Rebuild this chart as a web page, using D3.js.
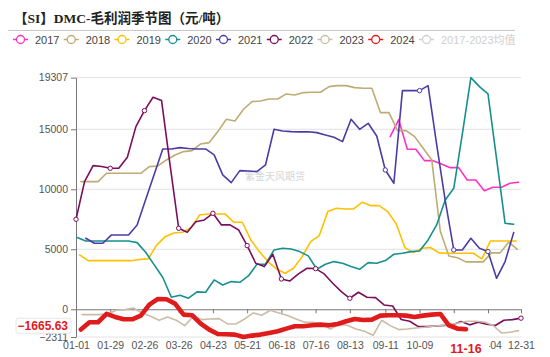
<!DOCTYPE html>
<html><head><meta charset="utf-8">
<script src="https://cdn.jsdelivr.net/npm/d3@7"></script>
<style>body{margin:0;background:#fff}svg{display:block}</style>
</head><body><svg id="c" width="550" height="357"></svg>
<script>
// ---------- DATA ----------
const years = ["2017","2018","2019","2020","2021","2022","2023","2024"];
const legendLabels = ["2017","2018","2019","2020","2021","2022","2023","2024","2017-2023均值"];
// first weekly date of each series (MM-DD); following points are one week apart
const seriesStart = ["09-15","01-05","01-04","01-02","01-09","01-01","01-06","01-05"];
const v2017 = [14387,15800,13331,13331,12387,12387,12109,11803,11803,10776,10776,9887,10165,10165,10498,10582];
const v2018 = [10640,10640,10640,11334,11334,11334,11334,11334,11890,11945,
               12445,12862,13140,13223,13778,13890,14806,15834,15695,16668,
               17307,17362,17529,17529,17946,17862,18057,18084,18084,18557,
               18640,18640,18473,18418,18418,16390,16390,14890,14890,14390,
               13418,12445,6500,4440,4300,3950,3950,3950,4700,4700,
               5600,5000];
const v2019 = [4528,4050,4050,4050,4050,4050,4050,4150,4200,5350,
               6050,6350,6420,6800,7850,7945,7945,7945,7250,7250,
               5778,4806,3973,3361,3000,3417,4389,5640,6140,8140,
               8417,8362,8362,8918,8640,8640,8140,7112,5140,4723,
               5084,5150,4700,4667,4667,4667,4667,4200,5695,5695,
               5695,5695];
const v2020 = [5972,5695,5695,5695,5695,5695,5695,5556,4750,3700,
               2650,1000,1167,920,1450,1417,2445,2028,2306,2250,
               2778,3750,3750,4945,5084,5028,4806,4450,3334,3750,
               3973,3834,3556,3334,3889,3834,4056,4584,4667,4806,
               4850,5778,7028,9112,10084,14600,19307,18557,17946,12556,
               7167,7084];
const v2021 = [5917,5500,5500,6195,6195,6195,7028,9140,11250,13362,
               13362,13473,13400,13362,13362,12862,11195,10556,11556,11528,
               11473,12028,15000,14862,14806,14780,14800,14720,14530,14330,
               13970,15832,14998,15498,14443,11609,10498,18221,18221,18221,
               18638,13750,9070,4945,4945,5917,5084,4806,2584,3973,
               6389];
const v2022 = [7500,10640,11973,11900,11750,11750,12668,15223,16557,17668,
               17390,12000,6751,6417,7300,7445,8000,7030,7030,6610,
               5306,3834,3556,4584,2528,2361,2945,3417,3390,2945,
               2167,1472,917,1417,1000,972,360,270,-850,-1000,
               -1450,-1450,-1400,-1350,-1300,-1020,-1300,-1080,-1250,-1350,
               -920,-860,-740];
const v2023 = [-444,-444,-444,-389,-83,-28,111,-306,-583,-917,
               -639,-917,-1361,-583,-861,-806,-778,-1222,-1222,-806,
               -306,-500,-83,-306,-528,-806,-1083,-1083,-1222,-1639,
               -1278,-1333,-1639,-1833,-2167,-917,-1361,-1694,-1639,-1556,
               -1500,-1417,-1333,-1278,-1139,-1000,-1000,-1056,-1333,-1972,
               -1917,-1778];
const v2024 = [-1694,-1083,-1083,-389,-639,-833,-833,-528,389,861,
               833,472,-444,-500,-1194,-1694,-2056,-2083,-2111,-2311,
               -2194,-2111,-1972,-1833,-1611,-1417,-1417,-1333,-1278,-1333,
               -1222,-1000,-806,-889,-861,-528,-500,-500,-528,-639,
               -528,-444,-389,-1333,-1611,-1665.63];
const seriesValues = [v2017,v2018,v2019,v2020,v2021,v2022,v2023,v2024];
// tick positions (MM-DD); the label of the 11-06 tick is hidden behind the pointer label in the reference
const xTickLabels = ["01-01","01-29","02-26","03-26","04-23","05-21","06-18","07-16","08-13","09-11","10-09","11-06","12-04","12-31"];
const xHiddenLabels = ["11-06"];
const yTickValues = [-2311,0,5000,10000,15000,19307];

// ---------- STYLE ----------
const colors = ["#ff30c4","#bdac74","#ffc000","#16908f","#4c3ca6","#7a0f5e","#cbbca8","#e01b1b","#d0d0d0"];
const widths = [1.6,1.6,1.6,1.6,1.6,1.6,1.6,4.6];
const fontSans = "'Liberation Sans','Noto Sans CJK SC',sans-serif";

const base = new Date(2023,0,1);
const dayOf = s => { const [m,d]=s.split("-").map(Number); return d3.timeDay.count(base,new Date(2023,m-1,d)); };
const fmtMD = d3.timeFormat("%m-%d");

const svg = d3.select("#c");
const x = d3.scaleLinear().domain([0,364]).range([76,521]);
const y = d3.scaleLinear().domain([-2311,19307]).range([337,77.6]);

// Title
svg.append("text").attr("x",14).attr("y",23)
  .attr("font-family","'Liberation Serif','Noto Sans CJK SC',serif")
  .attr("font-weight","bold").attr("font-size",13.5).attr("fill","#222")
  .text("【SI】DMC-毛利润季节图（元/吨）");
svg.append("line").attr("x1",8).attr("x2",515).attr("y1",30.5).attr("y2",30.5)
  .attr("stroke","#c8c8c8").attr("stroke-width",1);

// Legend
const leg = svg.append("g");
legendLabels.forEach((lab,i)=>{
  const g = leg.append("g").attr("transform",`translate(${13+i*50.75},39.5)`);
  const c = colors[i];
  g.append("line").attr("x1",0).attr("x2",15).attr("y1",0).attr("y2",0).attr("stroke",c).attr("stroke-width",1.5);
  g.append("circle").attr("cx",7.5).attr("cy",0).attr("r",4).attr("fill","#fff").attr("stroke",c).attr("stroke-width",1.3);
  g.append("text").attr("x",22).attr("y",4).attr("font-family",fontSans).attr("font-size",11)
    .attr("fill", i===8 ? "#cfcfcf" : "#444").text(lab);
});

// Grid lines
svg.append("g").selectAll("line").data(yTickValues.filter(v=>v!==0)).join("line")
  .attr("x1",76).attr("x2",521).attr("y1",d=>y(d)).attr("y2",d=>y(d))
  .attr("stroke","#e2e2e2").attr("stroke-width",1);

// Watermark
svg.append("text").attr("x",275).attr("y",180).attr("text-anchor","middle")
  .attr("font-family","'Noto Sans CJK SC',sans-serif").attr("font-size",10).attr("fill","#d6d6d6")
  .text("紫金天风期货");

// Y axis
const yAxis = svg.append("g").attr("transform","translate(76,0)")
  .call(d3.axisLeft(y).tickValues(yTickValues).tickFormat(d3.format("d")).tickSize(5).tickSizeOuter(0).tickPadding(3));
yAxis.select(".domain").attr("stroke","#777");
yAxis.selectAll(".tick line").attr("stroke","#777");
yAxis.selectAll("text").attr("font-family",fontSans).attr("font-size",10.5).attr("fill","#555");

// X axis line with ticks at zero
const xTickDays = xTickLabels.map(dayOf);
const xAxis = svg.append("g").attr("transform",`translate(0,${y(0)})`)
  .call(d3.axisBottom(x).tickValues(xTickDays).tickFormat("").tickSize(4).tickSizeOuter(0));
xAxis.select(".domain").attr("stroke","#777");
xAxis.selectAll(".tick line").attr("stroke","#777");
// X labels at bottom
const shownLabels = xTickLabels.filter(l=>!xHiddenLabels.includes(l));
const xLab = svg.append("g").attr("transform","translate(0,339)")
  .call(d3.axisBottom(x).tickValues(shownLabels.map(dayOf)).tickFormat((d,i)=>shownLabels[i]).tickSize(0).tickPadding(3));
xLab.select(".domain").remove();
xLab.selectAll("text").attr("font-family",fontSans).attr("font-size",10.5).attr("fill","#555");

// Series
const series = years.map((yr,k)=>{
  const s0 = dayOf(seriesStart[k]);
  return {yr, k, pts: seriesValues[k].map((v,i)=>({d:s0+7*i, v, i}))};
});
const line = d3.line().x(p=>x(p.d)).y(p=>y(p.v));
const lg = svg.append("g");
series.forEach(s=>{
  lg.append("path").datum(s.pts).attr("d",line).attr("fill","none")
    .attr("stroke",colors[s.k]).attr("stroke-width",widths[s.k])
    .attr("stroke-linejoin","round").attr("stroke-linecap","round");
});
// symbols shown on 2022 and 2021
const sym2022 = series[5].pts.filter(p=>(p.i%4===0 && p.i<=32) || p.i===52);
const sym2021 = series[4].pts.filter(p=>p.i%4===3 && p.i>=35);
[[sym2021,4],[sym2022,5]].forEach(([pts,k])=>{
  lg.selectAll(null).data(pts).join("circle")
    .attr("cx",p=>x(p.d)).attr("cy",p=>y(p.v)).attr("r",2.2)
    .attr("fill","#fff").attr("stroke",colors[k]).attr("stroke-width",1);
});

// Axis pointer labels for last 2024 point
const last = series[7].pts[series[7].pts.length-1];
const ly = y(last.v)-3.5;
svg.append("rect").attr("x",16).attr("y",ly-7.5).attr("width",55).attr("height",15).attr("rx",2)
  .attr("fill","#fff").attr("stroke","#e6e6e6");
svg.append("text").attr("x",68).attr("y",ly+4.5).attr("text-anchor","end")
  .attr("font-family",fontSans).attr("font-weight","bold").attr("font-size",12).attr("fill","#e01b1b")
  .text(d3.format(".2f")(last.v));
const lx = x(last.d);
svg.append("rect").attr("x",lx-23).attr("y",339).attr("width",46).attr("height",17).attr("fill","#fff");
svg.append("text").attr("x",lx).attr("y",352.5).attr("text-anchor","middle")
  .attr("font-family",fontSans).attr("font-weight","bold").attr("font-size",12.5).attr("fill","#e01b1b")
  .text(fmtMD(new Date(2023,0,1+last.d)));
</script></body></html>
